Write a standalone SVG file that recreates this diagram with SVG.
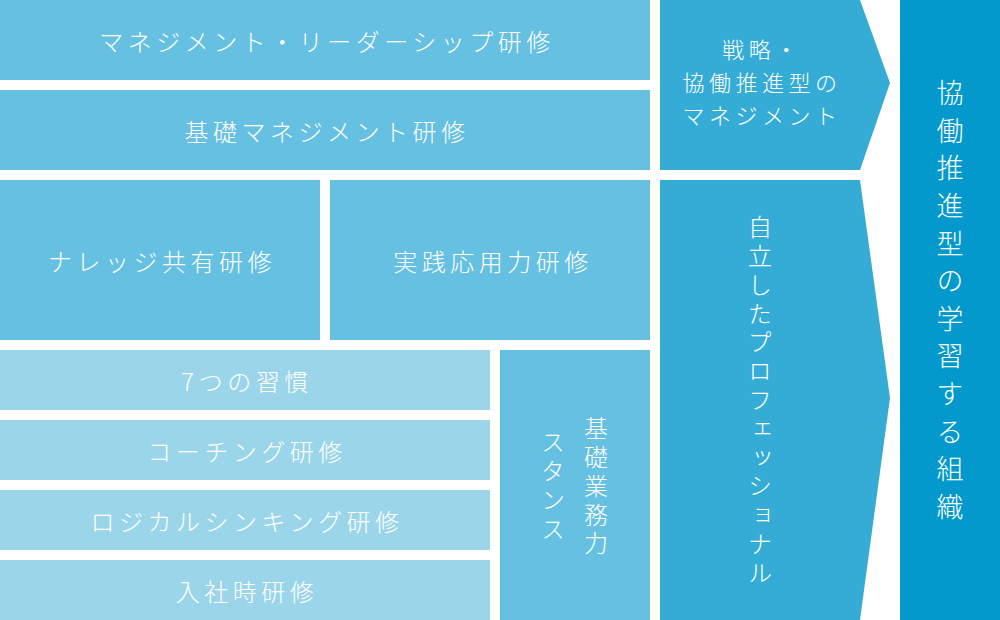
<svg xmlns="http://www.w3.org/2000/svg" width="1000" height="620" viewBox="0 0 1000 620">
<style>
.t{font-family:"Noto Sans CJK JP","Noto Sans",sans-serif;fill:#fff;font-size:24px;font-weight:300;dominant-baseline:central}
.h{text-anchor:middle;letter-spacing:4.5px}
.a{text-anchor:middle;letter-spacing:4.5px;font-size:22px}
.v{writing-mode:vertical-rl;letter-spacing:4.8px}
.mid{fill:#66c0e2}
.lt{fill:#9bd5ea}
.ar{fill:#35acd6}
.dk{fill:#0399cc}
</style>
<rect width="1000" height="620" fill="#fff"/>
<g id="n-mgmt-leader"><rect class="mid" x="0" y="0" width="650" height="80"/><text class="t h" x="327" y="40">マネジメント・リーダーシップ研修</text></g>
<g id="n-basic-mgmt"><rect class="mid" x="0" y="90" width="650" height="80"/><text class="t h" x="327" y="130">基礎マネジメント研修</text></g>
<g id="n-knowledge"><rect class="mid" x="0" y="180" width="320" height="160"/><text class="t h" x="162" y="260">ナレッジ共有研修</text></g>
<g id="n-practice"><rect class="mid" x="330" y="180" width="320" height="160"/><text class="t h" x="493" y="260">実践応用力研修</text></g>
<g id="n-7habits"><rect class="lt" x="0" y="350" width="490" height="60"/><text class="t h" x="247" y="380">7つの習慣</text></g>
<g id="n-coaching"><rect class="lt" x="0" y="420" width="490" height="60"/><text class="t h" x="247" y="450">コーチング研修</text></g>
<g id="n-logical"><rect class="lt" x="0" y="490" width="490" height="60"/><text class="t h" x="247" y="520">ロジカルシンキング研修</text></g>
<g id="n-newhire"><rect class="lt" x="0" y="560" width="490" height="60"/><text class="t h" x="247" y="590">入社時研修</text></g>
<g id="n-basic-skill"><rect class="mid" x="500" y="350" width="150" height="270"/><text class="t v" x="596" y="416">基礎業務力</text><text class="t v" x="553" y="430">スタンス</text></g>
<g id="n-strategy"><polygon class="ar" points="660,0 860,0 890,83 860,170 660,170"/><text class="t a" x="762" y="48">戦略・</text><text class="t a" x="762" y="81">協働推進型の</text><text class="t a" x="762" y="114">マネジメント</text></g>
<g id="n-pro"><polygon class="ar" points="660,180 860,180 890,398 860,620 660,620"/><text class="t v" x="760" y="215">自立したプロフェッショナル</text></g>
<g id="n-org"><rect class="dk" x="900" y="0" width="100" height="620"/><text class="t v" x="950" y="79.5" style="font-size:27px;letter-spacing:10.6px">協働推進型の学習する組織</text></g>
<g id="connectors"></g>
</svg>
